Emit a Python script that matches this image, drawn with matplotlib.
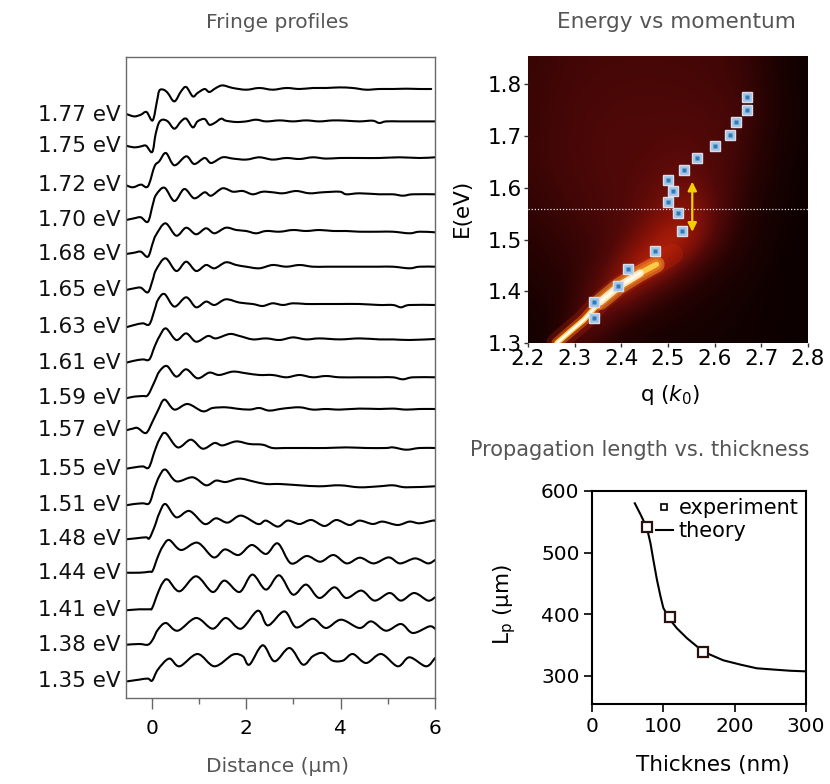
import numpy as np
import matplotlib
matplotlib.use('Agg')
import matplotlib.pyplot as plt
from matplotlib.colors import LinearSegmentedColormap
from matplotlib.lines import Line2D
from matplotlib.path import Path
from matplotlib.patches import PathPatch
import matplotlib.transforms as mtrans

plt.rcParams['font.family'] = ['DejaVu Sans']
plt.rcParams['mathtext.fontset'] = 'dejavusans'

# ---------------- Fringe profiles data ----------------
energy_labels = ['1.77 eV', '1.75 eV', '1.72 eV', '1.70 eV', '1.68 eV', '1.65 eV',
                 '1.63 eV', '1.61 eV', '1.59 eV', '1.57 eV', '1.55 eV', '1.51 eV',
                 '1.48 eV', '1.44 eV', '1.41 eV', '1.38 eV', '1.35 eV']
offsets = [583.3, 552.3, 512.7, 478, 444, 408, 370.7, 335.3, 299.7, 267.7,
           229.3, 192.7, 158.7, 125.3, 87.7, 53.3, 16.7]

x_177 = [-0.54,-0.37,-0.23,-0.11,0.02,0.11,0.16,0.25,0.34,0.48,0.62,0.73,0.87,0.97,1.12,1.22,1.36,1.50,1.72,2.00,2.28,2.56,2.85,3.13,3.41,3.69,3.98,4.26,4.54,4.82,5.11,5.39,5.67,5.92]
h_177 = [0.7,-1.7,0,2.7,-5.7,13.3,24,25,21.7,13.3,23.3,27.7,18.3,21.7,25.7,22.7,26.7,29.3,26.7,25,26.7,25,26.7,25.7,26.7,26.7,27.3,26.7,25,25.7,25.7,26,25.7,25.7]
x_175 = [-0.54,-0.37,-0.23,-0.12,0.01,0.08,0.15,0.23,0.34,0.48,0.62,0.73,0.87,0.97,1.12,1.22,1.33,1.47,1.57,1.79,2.00,2.21,2.42,2.71,2.99,3.27,3.55,3.84,4.12,4.40,4.68,4.82,4.96,5.25,5.53,6.00]
h_175 = [0,-1.7,-0.7,0,-6.3,11,22.7,26,24.3,17,24.3,27,18.3,24.3,26.7,21,22.7,27,25,23.7,24.3,26,24.3,25.3,24.3,25.3,24.3,25.3,25,24.3,25,22.7,24.3,24.3,24.3,24.3]
x_172 = [-0.54,-0.40,-0.23,-0.08,0.06,0.16,0.30,0.48,0.73,0.90,1.12,1.26,1.50,1.72,2.00,2.28,2.56,2.85,3.13,3.41,3.69,3.98,4.40,4.82,5.25,5.67,6.00]
h_172 = [0,-2,0.7,-1,19,24,32.3,20,29,21.3,27.3,22.3,28,26.7,25.7,28,25.7,27.3,26.3,28,26.7,27.3,27.3,27.3,28,27.3,28]
x_170 = [-0.54,-0.37,-0.23,-0.08,0.02,0.09,0.27,0.48,0.69,0.90,1.12,1.26,1.50,1.72,1.93,2.14,2.35,2.56,2.78,3.06,3.34,3.62,3.98,4.12,4.40,4.82,5.11,5.32,5.53,6.00]
h_170 = [0,1.7,2.7,-1.7,15,25,32.3,19,31,21.7,27.7,24.3,31.7,28.3,29,25.7,28.3,27.7,26.7,29,26.7,27.7,28.3,25.7,26.7,25.7,25.7,24.3,25.7,25.7]
x_168 = [-0.54,-0.37,-0.23,-0.08,0.02,0.09,0.29,0.52,0.73,0.94,1.15,1.33,1.57,1.79,2.00,2.21,2.42,2.71,2.99,3.27,3.55,3.84,4.12,4.40,4.82,5.11,5.46,5.67,6.00]
h_168 = [0,1.3,2.3,-2.7,10.7,19,30.7,18.3,26.3,19.7,25.7,20.7,26.3,24,23,20.7,23,22.3,24,23,24,23,23,22.3,22.3,22.3,20.7,22.3,21.7]
x_165 = [-0.54,-0.37,-0.23,-0.08,0.02,0.09,0.29,0.52,0.73,0.94,1.15,1.33,1.57,1.79,2.00,2.28,2.56,2.85,3.13,3.41,3.69,3.98,4.40,4.82,5.11,5.46,5.67,6.00]
h_165 = [0,1.7,2.3,-2.3,10,20,31.7,19,28.3,19,25,21.7,27.7,25,23.3,21.7,25,23.3,25,23.3,23.3,23.3,23.3,23.3,23.3,21.7,23.3,23.3]
x_163 = [-0.54,-0.37,-0.19,-0.05,0.06,0.13,0.27,0.48,0.73,0.94,1.15,1.33,1.57,1.86,2.14,2.35,2.56,2.78,2.99,3.27,3.55,3.98,4.40,4.82,5.11,5.28,5.46,6.00]
h_163 = [0,2.3,4,3,17.3,27.3,33.3,20.7,30,20,25.7,22.3,28,24.7,23.3,21.3,24,22.3,24,23.3,23.3,23.3,23.3,22.3,22.3,20,22.3,22.3]
x_161 = [-0.54,-0.37,-0.19,-0.05,0.06,0.16,0.30,0.52,0.73,0.94,1.19,1.36,1.65,1.86,2.14,2.42,2.71,2.99,3.27,3.55,3.98,4.40,4.82,5.11,5.46,6.00]
h_161 = [0,2,3.3,3.3,16,26,34.3,22.7,29.3,21,26.7,24.3,28.7,26.7,23.3,24.3,22.7,25.3,23.3,24.3,23.3,24.3,23.3,23.3,22.7,23.7]
x_159 = [-0.54,-0.37,-0.19,-0.08,0.06,0.16,0.32,0.52,0.73,0.97,1.22,1.43,1.72,2.00,2.28,2.56,2.85,3.13,3.41,3.69,3.98,4.40,4.82,5.11,5.32,5.53,6.00]
h_159 = [0,1.7,2.3,3.3,16.7,26.7,32.3,21.7,29,20,25.7,23.3,26.7,25,23.3,23.3,21,23.3,21,22.3,21,21,21,21,19,21,21]
x_157 = [-0.54,-0.40,-0.30,-0.12,0.02,0.13,0.27,0.48,0.76,1.08,1.29,1.57,1.79,2.07,2.28,2.49,2.78,3.13,3.41,3.69,3.98,4.40,4.82,5.11,5.39,5.67,6.00]
h_157 = [0,1.7,2.3,-2.7,9,19.7,30.7,20.7,26.3,19,22.3,23,21.7,20.7,22.3,19.7,21.7,23,20.7,21.3,20.7,21.7,21.3,21.7,20.7,21.3,21.3]
x_155 = [-0.54,-0.37,-0.19,-0.06,0.06,0.16,0.29,0.55,0.83,1.08,1.33,1.50,1.79,2.07,2.35,2.56,2.85,3.27,3.69,4.12,4.54,4.96,5.11,5.39,5.67,6.00]
h_155 = [0,1.3,2.3,1.3,17.3,29,35.7,21.3,29,20,25.7,23.3,27.3,24.7,24,20.7,20.7,20.7,20.7,21.3,20.7,20.7,21.3,19,20.7,20.7]
x_151 = [-0.54,-0.37,-0.19,-0.05,0.06,0.16,0.29,0.52,0.87,1.15,1.36,1.57,1.86,2.14,2.42,2.71,3.13,3.55,3.98,4.40,4.82,5.11,5.39,6.00]
h_151 = [0,1.3,2,2.3,17.3,29,35.7,24,28,20,24.7,23.3,26.7,24,21.3,21.3,20,19,20,18,19,20,18,19]
x_148 = [-0.54,-0.33,-0.12,-0.05,0.06,0.16,0.29,0.52,0.80,1.12,1.36,1.61,1.89,2.25,2.42,2.67,2.88,3.13,3.38,3.66,3.91,4.19,4.40,4.68,4.89,5.21,5.46,5.67,5.95,6.00]
h_148 = [0,1,2,1,12.7,26,35.3,22,28.3,15.3,21,16.7,23.7,15.3,18.7,12.7,18.7,15.3,19.3,13.3,19.3,14.3,18.7,15.3,17.7,14.3,17.7,16,18.7,18.7]
x_144 = [-0.54,-0.26,-0.05,0.02,0.13,0.23,0.37,0.62,0.97,1.31,1.55,1.84,2.12,2.42,2.67,2.95,3.28,3.57,3.85,4.13,4.41,4.70,5.02,5.26,5.58,5.85,6.00]
h_144 = [0,0,1,2,16,26,32.7,22.7,30,15.3,23.3,17.7,27.7,18.7,29.3,9.3,16.7,11,17.7,9.3,15,9.3,15.3,9.3,14.3,9.3,12.7]
x_141 = [-0.54,-0.26,-0.05,0.01,0.13,0.23,0.34,0.59,0.94,1.29,1.54,1.86,2.13,2.42,2.70,2.99,3.27,3.55,3.87,4.12,4.44,4.72,5.04,5.28,5.56,5.85,6.00]
h_141 = [0,1,1,2.3,17.3,27.3,30.7,19,34,18.3,29.7,18.3,35.7,20.7,35,15.7,25.7,12.3,23,12.3,19.7,9.7,17.3,9.7,17.3,9.7,13]
x_138 = [-0.54,-0.26,-0.08,0.02,0.13,0.30,0.55,0.94,1.29,1.57,1.89,2.25,2.46,2.81,3.06,3.41,3.69,4.01,4.40,4.65,4.96,5.28,5.53,5.88,6.00]
h_138 = [0,0.7,0,5,15,21.7,14,26.7,16,26.7,16,34,19.3,33.3,17.3,26,16.7,25,16.7,23.3,14,20.7,11.7,18.3,16]
x_135 = [-0.51,-0.26,-0.08,0.01,0.13,0.37,0.59,0.97,1.33,1.72,1.93,2.07,2.35,2.60,2.92,3.20,3.41,3.62,3.83,4.05,4.26,4.54,4.86,5.21,5.46,5.81,6.00]
h_135 = [0,1.7,2.7,0.7,11.7,22.7,15,27.3,15,26.7,25,16.7,36,20,33.3,16.7,25,28.3,20.7,20.7,27.3,18.3,27.3,15,24,15,23.3]

profiles_x = [x_177, x_175, x_172, x_170, x_168, x_165, x_163, x_161, x_159,
              x_157, x_155, x_151, x_148, x_144, x_141, x_138, x_135]
profiles_h = [h_177, h_175, h_172, h_170, h_168, h_165, h_163, h_161, h_159,
              h_157, h_155, h_151, h_148, h_144, h_141, h_138, h_135]

# ---------------- Energy vs momentum data ----------------
grid_q = [2.20, 2.25, 2.30, 2.35, 2.40, 2.45, 2.50, 2.55, 2.60, 2.65, 2.70, 2.75, 2.80]
grid_E = [1.30, 1.35, 1.40, 1.45, 1.50, 1.55, 1.60, 1.65, 1.70, 1.75, 1.80, 1.85]
I_130 = [0.05,0.14,0.34,0.22,0.14,0.11,0.09,0.08,0.07,0.06,0.05,0.04,0.03]
I_135 = [0.08,0.12,0.28,0.44,0.26,0.18,0.14,0.11,0.09,0.07,0.05,0.04,0.03]
I_140 = [0.12,0.15,0.22,0.40,0.56,0.38,0.25,0.17,0.12,0.09,0.06,0.04,0.03]
I_145 = [0.15,0.19,0.23,0.29,0.46,0.64,0.52,0.33,0.20,0.13,0.08,0.04,0.03]
I_150 = [0.19,0.22,0.25,0.29,0.35,0.47,0.60,0.54,0.33,0.19,0.10,0.05,0.03]
I_155 = [0.22,0.25,0.28,0.31,0.34,0.39,0.47,0.51,0.39,0.23,0.12,0.06,0.04]
I_160 = [0.24,0.27,0.30,0.32,0.34,0.37,0.41,0.43,0.35,0.26,0.15,0.07,0.04]
I_165 = [0.26,0.29,0.31,0.33,0.34,0.35,0.37,0.37,0.34,0.28,0.18,0.08,0.04]
I_170 = [0.26,0.29,0.31,0.33,0.34,0.34,0.35,0.35,0.33,0.30,0.20,0.10,0.05]
I_175 = [0.26,0.28,0.31,0.32,0.33,0.33,0.33,0.33,0.32,0.30,0.22,0.11,0.05]
I_180 = [0.26,0.28,0.30,0.31,0.32,0.32,0.32,0.31,0.30,0.28,0.21,0.10,0.05]
I_185 = [0.25,0.27,0.29,0.30,0.30,0.30,0.30,0.30,0.29,0.26,0.20,0.09,0.05]
intensity = [I_130, I_135, I_140, I_145, I_150, I_155, I_160, I_165, I_170, I_175, I_180, I_185]

band_q = [2.262, 2.29, 2.32, 2.355, 2.395, 2.44, 2.475, 2.51]
band_E = [1.300, 1.322, 1.345, 1.380, 1.410, 1.435, 1.452, 1.472]

point_q = [2.670, 2.669, 2.645, 2.633, 2.601, 2.563, 2.535, 2.501, 2.511,
           2.501, 2.521, 2.531, 2.473, 2.415, 2.393, 2.342, 2.341]
point_E = [1.776, 1.751, 1.728, 1.703, 1.681, 1.658, 1.635, 1.615, 1.594,
           1.573, 1.552, 1.516, 1.478, 1.444, 1.410, 1.379, 1.349]
line_E = 1.560
arrow_q = 2.552
arrow_E = [1.515, 1.612]

# ---------------- Propagation length data ----------------
theory_t = [60, 68, 77, 82, 86, 91, 96, 100, 110, 119, 133, 156, 184, 208, 231, 254, 278, 300]
theory_L = [580, 562, 540, 515, 488, 456, 429, 410, 390, 377, 361, 339, 325, 318, 312, 310, 308, 307]
exp_t = [77, 110, 156]
exp_L = [541, 395, 338]

# ---------------- Figure ----------------
W, H = 830, 784
fig = plt.figure(figsize=(W / 100, H / 100), dpi=100)


def rect(x0, x1, ytop, ybot):
    return [x0 / W, 1 - ybot / H, (x1 - x0) / W, (ybot - ytop) / H]


def smooth_path(xs, ys):
    """Catmull-Rom curve through the read points, drawn as cubic Bezier segments."""
    p = np.column_stack([xs, ys]).astype(float)
    n = len(p)
    verts, codes = [p[0]], [Path.MOVETO]
    for i in range(n - 1):
        p0 = p[i - 1] if i > 0 else p[i]
        p1, p2 = p[i], p[i + 1]
        p3 = p[i + 2] if i + 2 < n else p[i + 1]
        verts += [p1 + (p2 - p0) / 6.0, p2 - (p3 - p1) / 6.0, p2]
        codes += [Path.CURVE4] * 3
    return Path(verts, codes)


# Left panel
ax1 = fig.add_axes(rect(126, 435, 57, 698))
for xs, hs, off in zip(profiles_x, profiles_h, offsets):
    ax1.add_patch(PathPatch(smooth_path(xs, np.array(hs) + off), fill=False,
                            ec='black', lw=1.5, joinstyle='round', capstyle='round'))
ax1.set_xlim(-0.545, 6.0)
ax1.set_ylim(0, 641)
ax1.set_yticks([])
ax1.set_xticks([0, 2, 4, 6])
ax1.set_xticks([1, 3, 5], minor=True)
ax1.tick_params(axis='x', which='major', length=8, width=1, color='#666666',
                labelsize=14.5, pad=7)
ax1.tick_params(axis='x', which='minor', length=4, width=1, color='#666666')
for s in ax1.spines.values():
    s.set_color('#6a6a6a')
    s.set_linewidth(1)
trans = mtrans.blended_transform_factory(ax1.transAxes, ax1.transData)
for lab, off in zip(energy_labels, offsets):
    ax1.text(-0.017, off, lab, transform=trans, ha='right', va='center',
             fontsize=15.5, color='#111111')

# Heatmap panel
cmap = LinearSegmentedColormap.from_list('glow', [
    (0.0, '#070000'), (0.2, '#2a0303'), (0.35, '#520908'), (0.5, '#901408'),
    (0.65, '#d6320c'), (0.8, '#f8a020'), (0.9, '#ffe070'), (1.0, '#ffffff')])
ax2 = fig.add_axes(rect(528, 808, 56, 343))
ax2.imshow(np.array(intensity), origin='lower', aspect='auto', cmap=cmap,
           vmin=0, vmax=1, interpolation='bicubic',
           extent=[grid_q[0] - 0.025, grid_q[-1] + 0.025,
                   grid_E[0] - 0.025, grid_E[-1] + 0.025])
ax2.plot(band_q, band_E, color='#d02c0a', lw=15, alpha=0.25, solid_capstyle='round')
ax2.plot(band_q[:-1], band_E[:-1], color='#ff6a10', lw=8, alpha=0.5, solid_capstyle='round')
ax2.plot(band_q[3:7], band_E[3:7], color='#ffb030', lw=12, alpha=0.45, solid_capstyle='round')
ax2.plot(band_q[:-1], band_E[:-1], color='#ffd850', lw=4, alpha=0.9, solid_capstyle='round')
ax2.plot(band_q[3:6], band_E[3:6], color='#fff4d0', lw=5.5, alpha=0.85, solid_capstyle='round')
ax2.plot(band_q[:-2], band_E[:-2], color='#fffaf0', lw=2.0, alpha=1.0, solid_capstyle='round')
ax2.axhline(line_E, color='white', lw=0.9, ls=(0, (1, 1.5)), alpha=0.9)
ax2.annotate('', xy=(arrow_q, arrow_E[1]), xytext=(arrow_q, arrow_E[0]),
             arrowprops=dict(arrowstyle='<|-|>', color='#f2d000', lw=1.6,
                             mutation_scale=13, shrinkA=0, shrinkB=0))
ax2.plot(point_q, point_E, 's', ms=6.5, mfc='#a0c4e4', mec='#dcdcea', mew=1.0, ls='none')
ax2.plot(point_q, point_E, 's', ms=2.2, mfc='#2f7ab8', mec='none', ls='none')
ax2.set_xlim(2.2, 2.8)
ax2.set_ylim(1.3, 1.855)
ax2.set_xticks([2.2, 2.3, 2.4, 2.5, 2.6, 2.7, 2.8])
ax2.set_yticks([1.3, 1.4, 1.5, 1.6, 1.7, 1.8])
ax2.set_xticklabels(['2.2', '2.3', '2.4', '2.5', '2.6', '2.7', '2.8'])
ax2.set_yticklabels(['1.3', '1.4', '1.5', '1.6', '1.7', '1.8'])
ax2.tick_params(length=3, width=1, color='#333333', labelsize=15.5, pad=1.5)
for s in ax2.spines.values():
    s.set_visible(False)

# Propagation length panel
ax3 = fig.add_axes(rect(592, 806, 491, 704))
ax3.plot(theory_t, theory_L, color='black', lw=1.5)
ax3.plot(exp_t, exp_L, 's', ms=7, mfc='white', mec='#2a1010', mew=1.6, ls='none')
ax3.set_xlim(0, 300)
ax3.set_ylim(254, 600)
ax3.set_xticks([0, 100, 200, 300])
ax3.set_yticks([300, 400, 500, 600])
ax3.tick_params(length=6, width=1.2, labelsize=14.5, pad=3)
for s in ax3.spines.values():
    s.set_linewidth(1.5)
handles = [Line2D([], [], marker='s', ls='none', ms=5, mfc='white', mec='black', mew=1.2),
           Line2D([], [], color='black', lw=1.5)]
ax3.legend(handles, ['experiment', 'theory'], loc='upper right', frameon=False,
           fontsize=15, handlelength=0.8, handletextpad=0.3, labelspacing=0.15,
           borderaxespad=0.15, borderpad=0.2)

# Texts
gray = '#555555'
fig.text(277 / W, 1 - 22 / H, 'Fringe profiles', ha='center', va='center', fontsize=14.5, color=gray)
fig.text(676 / W, 1 - 22 / H, 'Energy vs momentum', ha='center', va='center', fontsize=15.5, color=gray)
fig.text(640 / W, 1 - 450 / H, 'Propagation length vs. thickness', ha='center', va='center',
         fontsize=15, color=gray)
fig.text(277 / W, 1 - 767 / H, 'Distance (µm)', ha='center', va='center', fontsize=14.5, color=gray)
fig.text(462 / W, 1 - 208 / H, 'E(eV)', ha='center', va='center', fontsize=15.5, rotation=90)
fig.text(670 / W, 1 - 395 / H, r'q ($\mathit{k}_0$)', ha='center', va='center', fontsize=15.5)
fig.text(505 / W, 1 - 605 / H, r'$\mathrm{L_p}$ (µm)', ha='center', va='center', fontsize=15.5,
         rotation=90)
fig.text(713 / W, 1 - 765 / H, 'Thicknes (nm)', ha='center', va='center', fontsize=15.5)

fig.savefig('out.png', dpi=100)
